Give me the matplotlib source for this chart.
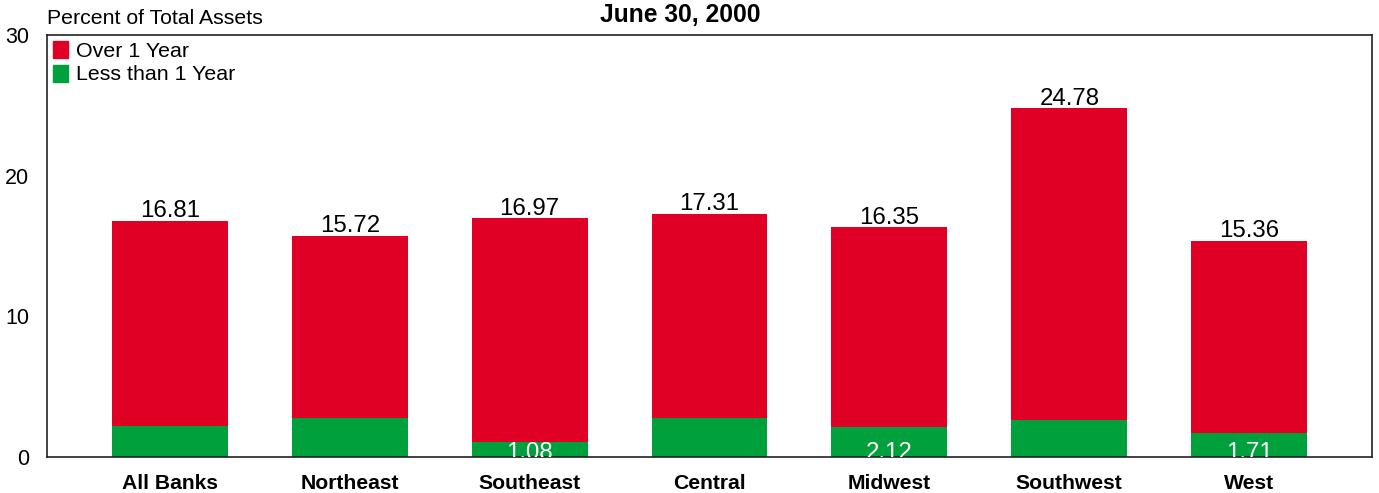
import matplotlib.pyplot as plt
import numpy as np
from matplotlib.patches import Patch

plt.rcParams['font.family'] = ['Liberation Sans', 'DejaVu Sans']

regions = ['All Banks', 'Northeast', 'Southeast', 'Central', 'Midwest', 'Southwest', 'West']
totals = [16.81, 15.72, 16.97, 17.31, 16.35, 24.78, 15.36]
# less than 1 year part (bottom segment), read from the picture where no label is shown
short_term = [2.2, 2.8, 1.08, 2.75, 2.12, 2.6, 1.71]
short_labels = [None, None, '1.08', None, '2.12', None, '1.71']
long_term = [t - s for t, s in zip(totals, short_term)]

red = '#E00025'
green = '#00A03D'

fig = plt.figure(figsize=(13.79, 4.93), dpi=100)
ax = fig.add_axes([47 / 1379, 1 - 457 / 493, (1372 - 47) / 1379, (457 - 35) / 493])

x = np.arange(len(regions))
w = 0.644
ax.bar(x, short_term, w, color=green, linewidth=0)
ax.bar(x, long_term, w, bottom=short_term, color=red, linewidth=0)

for xi, t in zip(x, totals):
    ax.annotate('%.2f' % t, (xi, t), xytext=(0, 2.5), textcoords='offset points',
                ha='center', va='baseline', fontsize=17.3)

for xi, lab in zip(x, short_labels):
    if lab:
        ax.text(xi, -0.15, lab, ha='center', va='baseline', fontsize=17.3,
                color='white', clip_on=True)

ax.set_xlim(-0.683, len(regions) - 1 + 0.683)
ax.set_ylim(0, 30)
ax.set_yticks([0, 10, 20, 30])
ax.set_xticks(x)
ax.set_xticklabels(regions, fontweight='bold')
ax.tick_params(axis='both', length=0)
ax.tick_params(axis='x', pad=12, labelsize=15.2)
ax.tick_params(axis='y', pad=13, labelsize=15.5)
for s in ax.spines.values():
    s.set_color('#222222')
    s.set_linewidth(1.2)

handles = [Patch(color=red, label='Over 1 Year'), Patch(color=green, label='Less than 1 Year')]
ax.legend(handles=handles, loc='upper left', bbox_to_anchor=(0, 1), borderaxespad=0,
          borderpad=0.3, frameon=False, fontsize=15.4, handlelength=0.7, handleheight=0.85,
          handletextpad=0.35, labelspacing=0.15)

fig.text(47 / 1379, 1 - 18 / 493, 'Percent of Total Assets', ha='left', va='center', fontsize=15.3)
fig.text(680 / 1379, 1 - 15 / 493, 'June 30, 2000', ha='center', va='center',
         fontsize=17.7, fontweight='bold')

fig.savefig('out.png', dpi=100)
